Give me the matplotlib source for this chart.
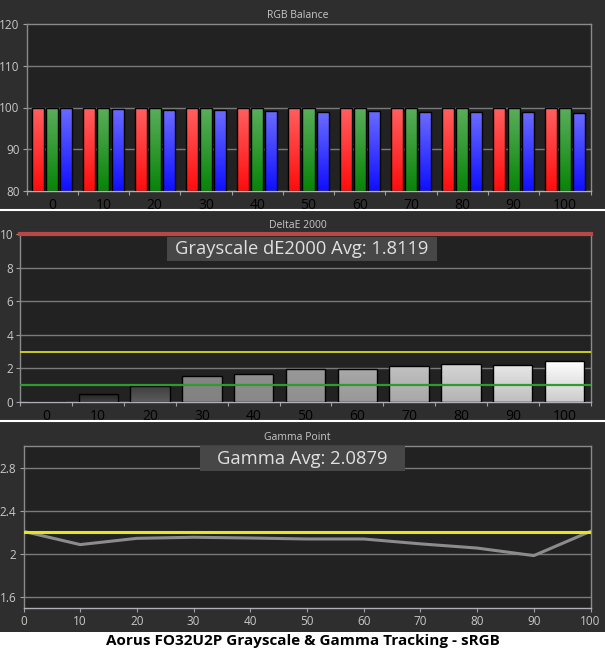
import numpy as np
import matplotlib
matplotlib.use("Agg")
import matplotlib.pyplot as plt
from matplotlib.lines import Line2D
from matplotlib.patches import Rectangle

# ----------------------------
# Data
# ----------------------------
levels = [0, 10, 20, 30, 40, 50, 60, 70, 80, 90, 100]
red_vals = [100, 100, 100, 99.9, 99.9, 100, 99.9, 99.9, 99.9, 99.9, 100]
green_vals = [100, 100, 100, 100, 100, 100, 100, 100, 100, 100, 100]
blue_vals = [100, 99.7, 99.4, 99.4, 99.1, 98.9, 99.2, 98.9, 98.9, 98.9, 98.7]

de_vals = [0.0, 0.5, 0.96, 1.52, 1.64, 1.94, 1.94, 2.17, 2.29, 2.23, 2.47]
de_avg_text = "Grayscale dE2000 Avg: 1.8119"

gamma_vals = [2.21, 2.087, 2.145, 2.155, 2.148, 2.139, 2.139, 2.094, 2.055, 1.985, 2.21]
gamma_target = 2.2
gamma_avg_text = "Gamma Avg: 2.0879"

chart_title = "Aorus FO32U2P Grayscale & Gamma Tracking - sRGB"

# ----------------------------
# Style
# ----------------------------
FIG_BG = "#2e2e2e"
AX_BG = "#222222"
SPINE = "#8a8a8a"
TXT = "#c8c8c8"
GRID = "#7a7a7a"
plt.rcParams['font.family'] = ['Open Sans', 'DejaVu Sans']

W, H = 605, 652


def fx(px):
    return px / W


def fy(py):
    return 1 - py / H


def make_axes(fig, left, top, right, bottom):
    ax = fig.add_axes([fx(left), fy(bottom), fx(right) - fx(left), fy(top) - fy(bottom)])
    ax.set_facecolor(AX_BG)
    for s in ax.spines.values():
        s.set_color(SPINE)
        s.set_linewidth(1.0)
    ax.spines['bottom'].set_color("#b0b0b8")
    ax.tick_params(colors="#a0a0a0", labelcolor=TXT, labelsize=8.5, length=3, width=0.8, pad=2)
    return ax


def gradient_bar(ax, x, h, w, top_rgb, bot_rgb, base=0.0):
    """Bar with a vertical colour gradient and a black edge."""
    bar = ax.bar(x, h - base, w, bottom=base, color="none", edgecolor="black",
                 linewidth=1.0, zorder=3)[0]
    grad = np.linspace(0, 1, 64)[:, None, None]
    top = np.array(top_rgb)[None, None, :]
    bot = np.array(bot_rgb)[None, None, :]
    img = top * (1 - grad) + bot * grad
    im = ax.imshow(img, extent=[x - w / 2, x + w / 2, base, h], aspect='auto',
                   origin='upper', zorder=2.5, interpolation='bilinear')
    im.set_clip_path(bar)


def cat_xaxis(ax, n):
    ax.set_xlim(-0.5, n - 0.5)
    ax.set_xticks(np.arange(-0.5, n, 1.0))
    ax.set_xticklabels([])
    ax.set_xticks(np.arange(n), minor=True)
    ax.set_xticklabels([str(v) for v in levels], minor=True)
    ax.tick_params(axis='x', which='minor', length=0, pad=5)


def avg_box(fig, left, top, right, bottom, text):
    fig.add_artist(Rectangle((fx(left), fy(bottom)), fx(right) - fx(left), fy(top) - fy(bottom),
                             transform=fig.transFigure, facecolor="#474747",
                             edgecolor='none', zorder=9))
    fig.text(fx((left + right) / 2), fy((top + bottom) / 2 + 0.5), text, color="#e0e0e0",
             fontsize=13.2, ha='center', va='center', zorder=10)


fig = plt.figure(figsize=(W / 100, H / 100), dpi=100, facecolor=FIG_BG)

# ----------------------------
# RGB Balance
# ----------------------------
ax1 = make_axes(fig, 26.5, 24, 590.5, 191)
n = len(levels)
idx = np.arange(n)
bw = 0.235
off = 0.276
for i in idx:
    gradient_bar(ax1, i - off, red_vals[i], bw, (1.0, 0.38, 0.38), (1.0, 0.05, 0.05), base=80)
    gradient_bar(ax1, i, green_vals[i], bw, (0.36, 0.68, 0.36), (0.03, 0.52, 0.03), base=80)
    gradient_bar(ax1, i + off, blue_vals[i], bw, (0.42, 0.42, 1.0), (0.06, 0.06, 1.0), base=80)
ax1.set_ylim(80, 120)
ax1.set_yticks([80, 90, 100, 110, 120])
for yv in [90, 100, 110]:
    ax1.axhline(yv, color=GRID, lw=1.0, zorder=1)
cat_xaxis(ax1, n)
fig.text(0.492, fy(15), "RGB Balance", color=TXT, fontsize=7.5, ha='center', va='center')

# ----------------------------
# DeltaE 2000
# ----------------------------
ax2 = make_axes(fig, 20.5, 234, 590.5, 402)
bar_grays = [0.0, 0.13, 0.24, 0.52, 0.56, 0.6, 0.66, 0.76, 0.84, 0.91, 1.0]
for i in idx:
    g = bar_grays[i]
    gb = g * 0.6 + 0.5 * 0.4 if g > 0.3 else g + 0.12
    gradient_bar(ax2, i, de_vals[i], 0.76, (g, g, g), (gb, gb, gb))
ax2.set_ylim(0, 10)
ax2.set_yticks([0, 2, 4, 6, 8, 10])
for yv in [2, 4, 6, 8]:
    ax2.axhline(yv, color=GRID, lw=1.0, zorder=1)
ax2.axhline(10, color="#b84848", lw=3, zorder=5, clip_on=False)
ax2.axhline(3, color="#d8d820", lw=1.3, zorder=5)
ax2.axhline(1, color="#2f9a2f", lw=1.6, zorder=5)
cat_xaxis(ax2, n)
fig.text(0.492, fy(226), "DeltaE 2000", color=TXT, fontsize=7.5, ha='center', va='center')
avg_box(fig, 167, 236.5, 437, 260.5, de_avg_text)

# ----------------------------
# Gamma Point
# ----------------------------
ax3 = make_axes(fig, 23.5, 446, 590.5, 608)
ax3.plot(levels, gamma_vals, color="#8c8c8c", lw=2.2, zorder=3)
ax3.axhline(gamma_target, color="#e6e61e", lw=2.2, zorder=4)
ax3.set_xlim(0, 100)
ax3.set_ylim(1.5, 3.0)
ax3.set_yticks([1.6, 2.0, 2.4, 2.8])
ax3.set_yticklabels(["1.6", "2", "2.4", "2.8"])
ax3.set_xticks(levels)
for yv in [1.6, 2.0, 2.4, 2.8]:
    ax3.axhline(yv, color=GRID, lw=1.0, zorder=1)
fig.text(0.492, fy(437), "Gamma Point", color=TXT, fontsize=7.5, ha='center', va='center')
avg_box(fig, 200, 446, 405, 470.5, gamma_avg_text)

# ----------------------------
# Separators and caption band
# ----------------------------
for yp in [210, 421]:
    fig.add_artist(Line2D([0, 1], [fy(yp), fy(yp)], color="white", lw=1.5))
fig.add_artist(Rectangle((0, 0), 1, fy(632), transform=fig.transFigure,
                         facecolor="white", edgecolor='none'))
fig.text(0.5, fy(641.5), chart_title, color="black", fontsize=11, fontweight='bold',
         ha='center', va='center')

fig.savefig("out.png", dpi=100, facecolor=FIG_BG)
